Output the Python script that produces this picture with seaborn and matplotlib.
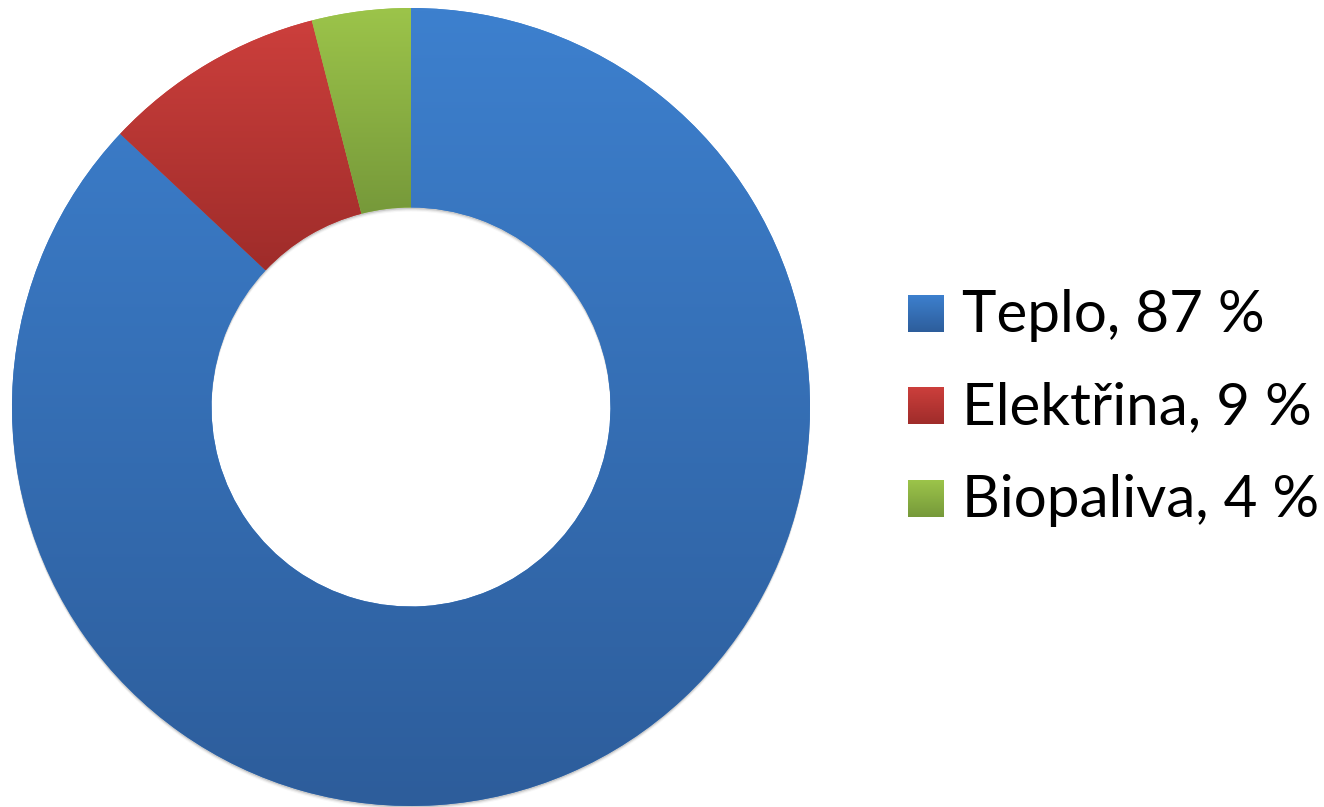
"""
Donut chart of renewable energy use by sector, with vertical gradient fills.
"""
import matplotlib
matplotlib.use("Agg")
import matplotlib.pyplot as plt
import numpy as np
import seaborn as sns

labels = ["Teplo", "Elektřina", "Biopaliva"]
shares = [87, 9, 4]
top_colors = ["#3d80ce", "#cc3f3c", "#9cc44a"]
bottom_colors = ["#2d5d9b", "#9f2c2a", "#76993a"]

sns.set_theme(style="white")
plt.rcParams["font.family"] = ["Lato", "DejaVu Sans"]

W, H = 1324, 807
cx, cy, r = 411, 407, 399

fig = plt.figure(figsize=(W / 100, H / 100), dpi=100)
ax = fig.add_axes([(cx - r) / W, (H - cy - r) / H, 2 * r / W, 2 * r / H])

# soft drop shadow under the ring
for dy, a in [(-0.004, 0.18), (-0.007, 0.10), (-0.010, 0.05)]:
    sh, _ = ax.pie([1], radius=1, center=(0, dy), colors=["#555555"],
                   wedgeprops=dict(width=0.5, linewidth=0, alpha=a))
    for s in sh:
        s.set_clip_on(False)

wedges, _ = ax.pie(shares, startangle=90, counterclock=False, radius=1,
                   colors=top_colors, wedgeprops=dict(width=0.5, linewidth=0))

grad = np.linspace(0, 1, 256).reshape(-1, 1)
for w, c_top, c_bot in zip(wedges, top_colors, bottom_colors):
    ext = w.get_path().get_extents()
    cmap = sns.blend_palette([c_bot, c_top], as_cmap=True)
    im = ax.imshow(grad, cmap=cmap, origin="lower", aspect="auto",
                   extent=[ext.x0, ext.x1, ext.y0, ext.y1], zorder=w.get_zorder() + 0.1)
    im.set_clip_path(w)

ax.set_aspect("equal")
ax.set_xlim(-1, 1)
ax.set_ylim(-1, 1)
ax.axis("off")

# --- legend drawn by hand in pixel coordinates ---
lax = fig.add_axes([0, 0, 1, 1])
baselines = [332, 424.5, 517]
for lab, val, base, c_top, c_bot in zip(labels, shares, baselines, top_colors, bottom_colors):
    cmap = sns.blend_palette([c_bot, c_top], as_cmap=True)
    lax.imshow(grad, cmap=cmap, origin="lower", aspect="auto",
               extent=[908, 944, base, base - 37])
    lax.text(962, base, f"{lab}, {val} %", fontsize=42, va="baseline", ha="left", color="black")
lax.set_xlim(0, W)
lax.set_ylim(H, 0)
lax.axis("off")

fig.savefig("out.png", dpi=100)
